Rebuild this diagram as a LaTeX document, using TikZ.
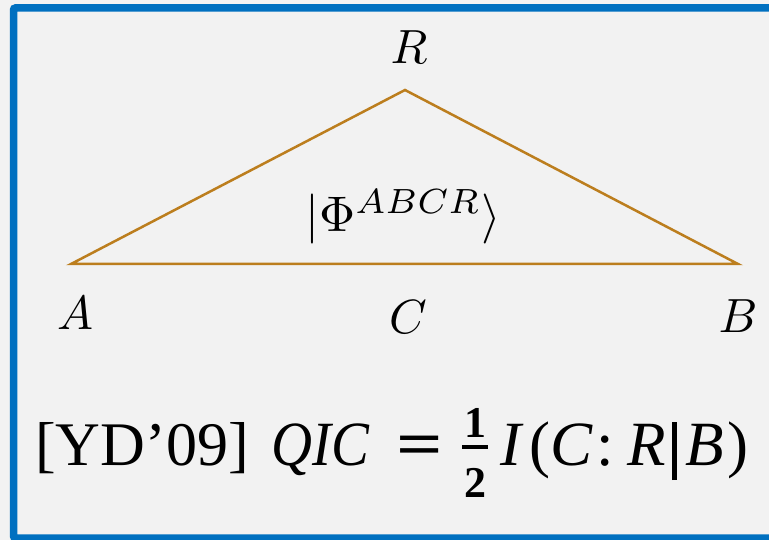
\documentclass[tikz,border=0pt]{standalone}
\usepackage[no-math]{fontspec}
\newfontfamily\timesfont{Liberation Serif}
\definecolor{frameblue}{HTML}{0070C0}
\definecolor{bggray}{HTML}{F2F2F2}
\definecolor{tricolor}{RGB}{188,126,30}
\begin{document}
\begin{tikzpicture}[x=1pt,y=-1pt,
  lbl/.style={inner sep=0pt, anchor=base},
  fml/.style={inner sep=0pt, anchor=base west, font=\timesfont\fontsize{62}{74}\selectfont},
  fmlit/.style={inner sep=0pt, anchor=base west, font=\timesfont\itshape\fontsize{63}{75}\selectfont},
  fracdigit/.style={inner sep=0pt, anchor=base, font=\timesfont\bfseries\fontsize{44}{52}\selectfont},
  edge/.style={draw=tricolor, line width=2.5pt, line join=miter}]
\useasboundingbox (0,0) rectangle (769,540);
\fill[bggray] (0,0) rectangle (769,540);
\draw[frameblue, line width=7.5pt, rounded corners=2pt] (13.5,8) rectangle (778,538);
% triangle
\coordinate (A) at (71,264);
\coordinate (B) at (738,264);
\coordinate (R) at (405,90);
\draw[edge] (A) -- (B) -- (R) -- cycle;
% labels
\node[lbl] (lR) at (409,64) {\scalebox{4.8}{$R$}};
\node[lbl] (lA) at (75,330) {\scalebox{4.8}{$A$}};
\node[lbl] (lC) at (408,334) {\scalebox{4.8}{$C$}};
\node[lbl] (lB) at (738,333) {\scalebox{4.8}{$B$}};
\node[lbl] (ket) at (403,232) {\scalebox{5}{$|\Phi^{ABCR}\rangle$}};
% formula
\node[fml] (yd) at (35,465) {[YD’09]};
\node[fmlit] (qic) at (271,465) {\scalebox{0.9}[1]{QIC}};
\node[fml, anchor=base, font=\timesfont\bfseries\fontsize{63}{75}\selectfont] (eq) at (420,465) {\scalebox{1.3}[1]{=}};
\node[fracdigit] (num) at (475,437) {1};
\node[inner sep=0pt, minimum width=26pt, minimum height=3.5pt, fill=black] (bar) at (475,447) {};
\node[fracdigit] (den) at (475,497) {2};
\node[fmlit] (mi) at (500,465) {I\hspace{8pt}\upshape(\itshape C\hspace{4pt}\upshape:\hspace{14pt}\itshape R\hspace{6pt}\rule[-15pt]{5pt}{58pt}\hspace{8pt}B\hspace{4pt}\upshape)};
\end{tikzpicture}
\end{document}
